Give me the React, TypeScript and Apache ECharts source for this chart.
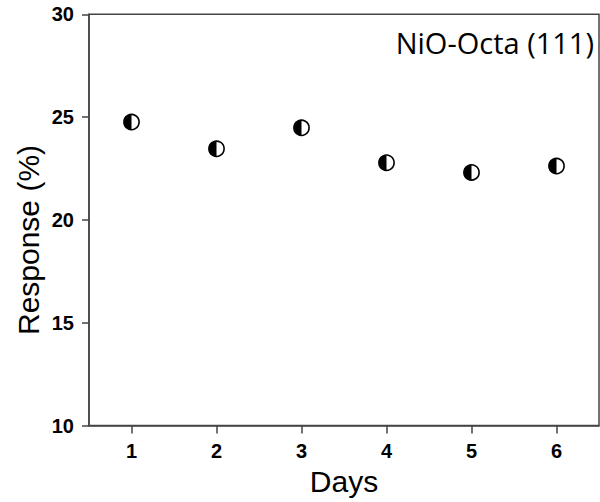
import React, { useEffect, useRef } from "react";
import * as echarts from "echarts";

const days = ["1", "2", "3", "4", "5", "6"];
const response = [24.76, 23.46, 24.48, 22.78, 22.31, 22.62];
const yTicks = { min: 10, max: 30, interval: 5 };
const titleText = "NiO-Octa (111)";
const xName = "Days";
const yName = "Response (%)";

export default function App() {
  const ref = useRef<HTMLDivElement>(null);
  useEffect(() => {
    if (!ref.current) return;
    const chart = echarts.init(ref.current, undefined, { renderer: "svg" });
    const R = 7.6;
    const axisColor = "#444";
    chart.setOption({
      animation: false,
      backgroundColor: "#fff",
      grid: {
        left: 89,
        top: 14.3,
        right: 1,
        bottom: 76.5,
        show: true,
        borderColor: axisColor,
        borderWidth: 1.5,
        backgroundColor: "transparent",
      },
      xAxis: {
        type: "category",
        data: days,
        boundaryGap: true,
        name: xName,
        nameLocation: "middle",
        nameGap: 41,
        nameTextStyle: { fontFamily: "Liberation Sans", fontSize: 30, color: "#000" },
        axisLine: { show: true, lineStyle: { color: axisColor, width: 1.5 } },
        axisTick: { show: true, alignWithLabel: true, length: 8, lineStyle: { color: axisColor, width: 1.5 } },
        axisLabel: { fontFamily: "Liberation Sans", fontWeight: "bold", fontSize: 20, color: "#000", margin: 15 },
        splitLine: { show: false },
      },
      yAxis: {
        type: "value",
        min: yTicks.min,
        max: yTicks.max,
        interval: yTicks.interval,
        axisLine: { show: true, lineStyle: { color: axisColor, width: 1.5 } },
        axisTick: { show: true, length: 7, lineStyle: { color: axisColor, width: 1.5 } },
        axisLabel: { fontFamily: "Liberation Sans", fontWeight: "bold", fontSize: 20, color: "#000", margin: 15 },
        splitLine: { show: false },
      },
      graphic: [
        {
          type: "text",
          x: 28,
          y: 240,
          rotation: Math.PI / 2,
          style: {
            text: yName,
            font: '30px "Liberation Sans"',
            align: "center",
            verticalAlign: "middle",
            fill: "#000",
          },
        },
        {
          type: "text",
          x: 594,
          y: 42,
          style: {
            text: titleText,
            font: '29px "Open Sans"',
            align: "right",
            verticalAlign: "middle",
            fill: "#000",
          },
        },
      ],
      series: [
        {
          type: "custom",
          data: days.map((d, i) => [d, response[i]]),
          renderItem: (params: any, api: any) => {
            const p = api.coord([api.value(0), api.value(1)]);
            return {
              type: "group",
              children: [
                {
                  type: "circle",
                  shape: { cx: p[0], cy: p[1], r: R },
                  style: { fill: "#fff", stroke: "#000", lineWidth: 1.6 },
                },
                {
                  type: "sector",
                  shape: { cx: p[0], cy: p[1], r0: 0, r: R, startAngle: Math.PI / 2, endAngle: (Math.PI * 3) / 2 },
                  style: { fill: "#000" },
                },
              ],
            };
          },
        },
      ],
    });
    return () => chart.dispose();
  }, []);
  return (
    <div
      ref={ref}
      style={{ position: "fixed", left: 0, top: 0, width: 600, height: 502 }}
    />
  );
}
